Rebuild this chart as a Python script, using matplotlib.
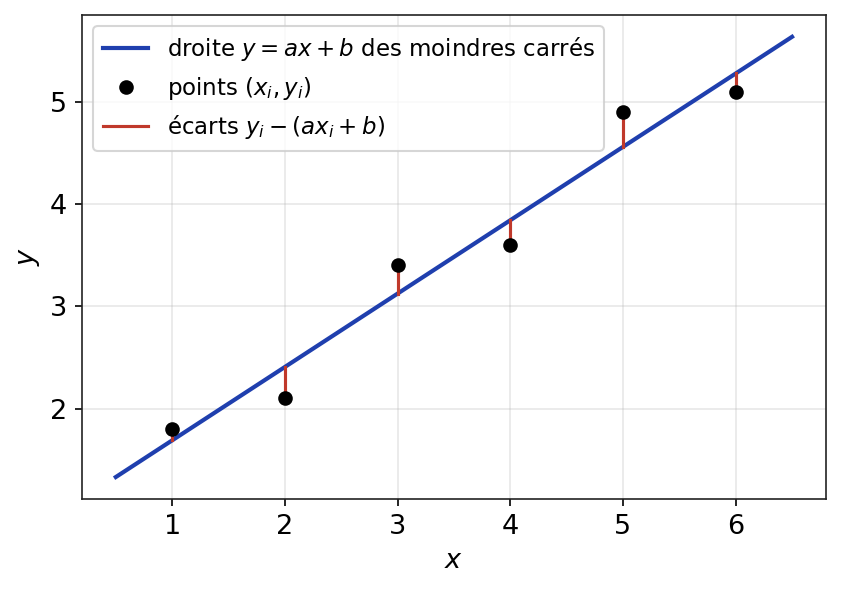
import numpy as np
import matplotlib
matplotlib.use("Agg")
import matplotlib.pyplot as plt

x_pts = np.array([1, 2, 3, 4, 5, 6])
y_pts = np.array([1.8, 2.1, 3.4, 3.6, 4.9, 5.1])
x_range = np.array([0.5, 6.5])

a, b = np.polyfit(x_pts, y_pts, 1)

fig, ax = plt.subplots(figsize=(841/150, 592/150), dpi=150)
ax.plot(x_range, a*x_range + b, color="#1f3fae", lw=2,
        label=r"droite $y = ax + b$ des moindres carrés")
ax.plot(x_pts, y_pts, "o", color="black", ms=6, zorder=4, label=r"points $(x_i, y_i)$")
for i, (xi, yi) in enumerate(zip(x_pts, y_pts)):
    ax.plot([xi, xi], [yi, a*xi + b], color="#c0392b", lw=1.5,
            label=r"écarts $y_i - (ax_i + b)$" if i == 0 else None)
ax.set_xlabel(r"$x$", fontsize=13)
ax.set_ylabel(r"$y$", fontsize=13)
ax.tick_params(labelsize=13)
for s in ax.spines.values():
    s.set_color("#222222")
ax.grid(True, alpha=0.3)
ax.legend(loc="upper left", fontsize=11)
fig.subplots_adjust(left=0.0975, right=0.982, top=0.975, bottom=0.157)
fig.savefig("out.png", dpi=150)
